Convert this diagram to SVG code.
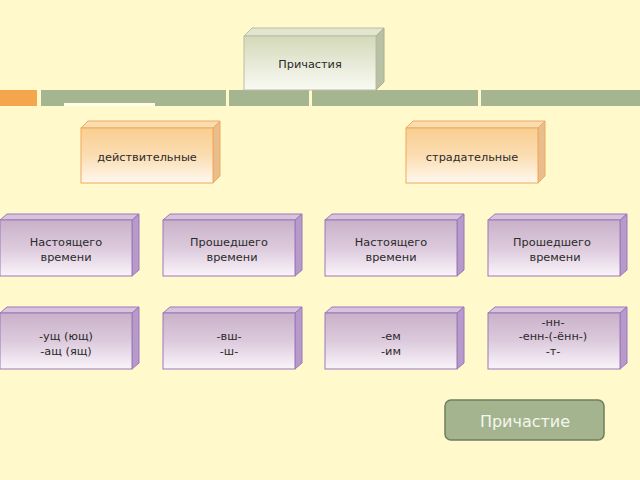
<svg xmlns="http://www.w3.org/2000/svg" width="640" height="480" viewBox="0 0 640 480">
<defs>
<linearGradient id="gG" x1="0" y1="0" x2="0" y2="1"><stop offset="0" stop-color="#D3D9B9"/><stop offset="1" stop-color="#FAFAF4"/></linearGradient>
<linearGradient id="gO" x1="0" y1="0" x2="0" y2="1"><stop offset="0" stop-color="#F9CE90"/><stop offset="0.5" stop-color="#FBDDB2"/><stop offset="1" stop-color="#FFF8EE"/></linearGradient>
<linearGradient id="gP" x1="0" y1="0" x2="0" y2="1"><stop offset="0" stop-color="#C9B1C9"/><stop offset="0.5" stop-color="#DCCADC"/><stop offset="1" stop-color="#FAF4FA"/></linearGradient>
</defs>
<style>
text{font-family:"DejaVu Sans","Liberation Sans",sans-serif;font-size:11.3px;fill:#2a2a2a;text-anchor:middle}
.gf{fill:url(#gG);stroke:#B7BEA2;stroke-width:1}
.gt{fill:#E2E6CF;stroke:#B7BEA2;stroke-width:1}
.gs{fill:#B9C0A4;stroke:#A8B092;stroke-width:1}
.of{fill:url(#gO);stroke:#F0A95C;stroke-width:1}
.ot{fill:#F9DDB0;stroke:#F0A95C;stroke-width:1}
.os{fill:#E9BD8C;stroke:#F0A95C;stroke-width:1}
.pf{fill:url(#gP);stroke:#9E76BA;stroke-width:1}
.pt{fill:#D6C4DC;stroke:#9E76BA;stroke-width:1}
.ps{fill:#B59ACA;stroke:#9E76BA;stroke-width:1}
</style>
<rect width="640" height="480" fill="#FFF9CB"/>
<g id="band">
<rect x="0" y="90" width="37" height="16" fill="#F5A54B"/>
<rect x="41" y="90" width="185" height="16" fill="#A5B590"/>
<rect x="229" y="90" width="80" height="16" fill="#A5B590"/>
<rect x="312" y="90" width="166" height="16" fill="#A5B590"/>
<rect x="481" y="90" width="159" height="16" fill="#A5B590"/>
<rect x="64" y="103" width="91" height="3" fill="#FFFDE8"/>
</g>
<g id="n-root">
<polygon class="gt" points="244,36 252,28 384,28 376,36"/>
<polygon class="gs" points="376,36 384,28 384,82 376,90"/>
<rect class="gf" x="244" y="36" width="132" height="54"/>
<text x="310" y="68">Причастия</text>
</g>
<g id="n-act">
<polygon class="ot" points="81,128 88,121 220,121 213,128"/>
<polygon class="os" points="213,128 220,121 220,176 213,183"/>
<rect class="of" x="81" y="128" width="132" height="55"/>
<text x="147" y="161">действительные</text>
</g>
<g id="n-pas">
<polygon class="ot" points="406,128 413,121 545,121 538,128"/>
<polygon class="os" points="538,128 545,121 545,176 538,183"/>
<rect class="of" x="406" y="128" width="132" height="55"/>
<text x="472" y="161">страдательные</text>
</g>
<g id="n-t1">
<polygon class="pt" points="0,220 7,214 139,214 132,220"/>
<polygon class="ps" points="132,220 139,214 139,270 132,276"/>
<rect class="pf" x="0" y="220" width="132" height="56"/>
<text x="66" y="246">Настоящего</text><text x="66" y="261">времени</text>
</g>
<g id="n-t2">
<polygon class="pt" points="163,220 170,214 302,214 295,220"/>
<polygon class="ps" points="295,220 302,214 302,270 295,276"/>
<rect class="pf" x="163" y="220" width="132" height="56"/>
<text x="229" y="246">Прошедшего</text><text x="232" y="261">времени</text>
</g>
<g id="n-t3">
<polygon class="pt" points="325,220 332,214 464,214 457,220"/>
<polygon class="ps" points="457,220 464,214 464,270 457,276"/>
<rect class="pf" x="325" y="220" width="132" height="56"/>
<text x="391" y="246">Настоящего</text><text x="391" y="261">времени</text>
</g>
<g id="n-t4">
<polygon class="pt" points="488,220 495,214 627,214 620,220"/>
<polygon class="ps" points="620,220 627,214 627,270 620,276"/>
<rect class="pf" x="488" y="220" width="132" height="56"/>
<text x="552" y="246">Прошедшего</text><text x="555" y="261">времени</text>
</g>
<g id="n-s1">
<polygon class="pt" points="0,313 7,307 139,307 132,313"/>
<polygon class="ps" points="132,313 139,307 139,363 132,369"/>
<rect class="pf" x="0" y="313" width="132" height="56"/>
<text x="66" y="340">-ущ (ющ)</text><text x="66" y="355">-ащ (ящ)</text>
</g>
<g id="n-s2">
<polygon class="pt" points="163,313 170,307 302,307 295,313"/>
<polygon class="ps" points="295,313 302,307 302,363 295,369"/>
<rect class="pf" x="163" y="313" width="132" height="56"/>
<text x="229" y="340">-вш-</text><text x="229" y="355">-ш-</text>
</g>
<g id="n-s3">
<polygon class="pt" points="325,313 332,307 464,307 457,313"/>
<polygon class="ps" points="457,313 464,307 464,363 457,369"/>
<rect class="pf" x="325" y="313" width="132" height="56"/>
<text x="391" y="340">-ем</text><text x="391" y="355">-им</text>
</g>
<g id="n-s4">
<polygon class="pt" points="488,313 495,307 627,307 620,313"/>
<polygon class="ps" points="620,313 627,307 627,363 620,369"/>
<rect class="pf" x="488" y="313" width="132" height="56"/>
<text x="553" y="326">-нн-</text><text x="553" y="340">-енн-(-ённ-)</text><text x="553" y="355">-т-</text>
</g>
<g id="btn">
<rect x="445" y="400" width="159" height="40" rx="6" fill="#A4B48E" stroke="#6F7F5E" stroke-width="1.5"/>
<text x="525" y="427" style="font-size:16px;fill:#F4F6EE">Причастие</text>
</g>
<g id="connectors"/>
</svg>
